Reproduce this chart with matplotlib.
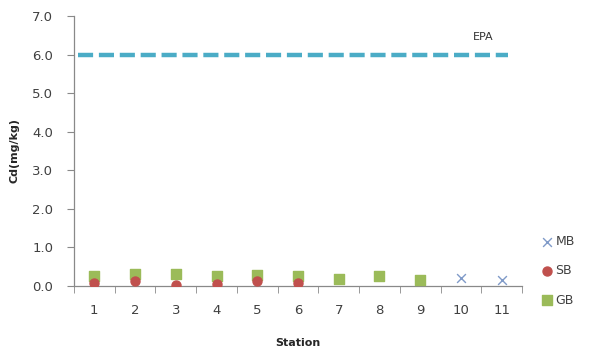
import matplotlib
matplotlib.use("Agg")
import matplotlib.pyplot as plt
import numpy as np

stations = [1, 2, 3, 4, 5, 6, 7, 8, 9, 10, 11]
gb_stations = [1, 2, 3, 4, 5, 6, 7, 8, 9]
gb_values = [0.26, 0.30, 0.31, 0.25, 0.27, 0.25, 0.18, 0.25, 0.15]
sb_stations = [1, 2, 3, 4, 5, 6]
sb_values = [0.08, 0.12, 0.02, 0.04, 0.12, 0.07]
mb_stations = [10, 11]
mb_values = [0.20, 0.14]
epa_x = [0.6, 11.15]
epa_value = 6.0
yticks = [0.0, 1.0, 2.0, 3.0, 4.0, 5.0, 6.0, 7.0]

fig = plt.figure(figsize=(5.96, 3.56), dpi=100)
ax = fig.add_axes([0.124, 0.197, 0.752, 0.758])

grey = "#898989"
ax.plot(epa_x, [epa_value, epa_value], linestyle=(0, (3.4, 1.3)), color="#4BACC6",
        linewidth=3.2, solid_capstyle="butt", zorder=1)
ax.text(10.55, 6.45, "EPA", fontsize=8, color="#333333", ha="center", va="center")

ax.scatter(gb_stations, gb_values, marker="s", s=42, color="#9BBB59", zorder=3, label="GB")
ax.scatter(sb_stations, sb_values, marker="o", s=42, color="#C0504D", zorder=4, label="SB")
ax.scatter(mb_stations, mb_values, marker="x", s=40, color="#7F9AC8", linewidths=1.0,
           zorder=5, label="MB")

ax.set_xlim(0.5, 11.5)
ax.set_ylim(0, 7.0)
ax.set_yticks(yticks)
ax.set_yticklabels([f"{v:.1f}" for v in yticks])
ax.set_xticks(stations)
ax.set_xticklabels([str(s) for s in stations])
ax.set_xticks(np.arange(0.5, 12.0, 1.0), minor=True)

for s in ["top", "right"]:
    ax.spines[s].set_visible(False)
for s in ["left", "bottom"]:
    ax.spines[s].set_color(grey)
    ax.spines[s].set_linewidth(0.9)

ax.tick_params(axis="y", direction="out", length=5, color=grey, labelsize=9.5,
               labelcolor="#404040", pad=10)
ax.tick_params(axis="x", which="major", length=0, labelsize=9.5, labelcolor="#404040", pad=13)
ax.tick_params(axis="x", which="minor", direction="out", length=5, color=grey)

ax.set_ylabel("Cd(mg/kg)", fontsize=8, fontweight="bold", color="#262626", labelpad=9)
ax.set_xlabel("Station", fontsize=8, fontweight="bold", color="#262626", labelpad=15)

handles, labels = ax.get_legend_handles_labels()
order = [2, 1, 0]
leg = fig.legend([handles[i] for i in order], [labels[i] for i in order],
                 loc="upper left", bbox_to_anchor=(0.895, 0.357), frameon=False,
                 fontsize=9, labelspacing=1.3, handletextpad=0.15, handlelength=1.1,
                 borderpad=0)
for t in leg.get_texts():
    t.set_color("#404040")

fig.savefig("out.png", dpi=100)
